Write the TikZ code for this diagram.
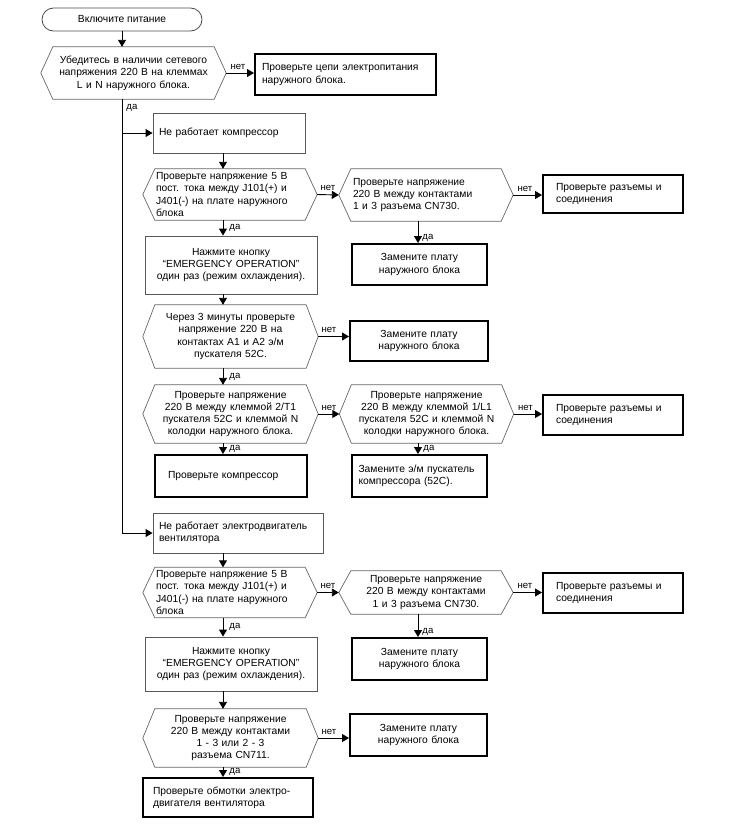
\documentclass[tikz,border=0pt]{standalone}
\usepackage{fontspec}
\setmainfont{Liberation Sans}
\usetikzlibrary{arrows.meta,calc}
\begin{document}
\begin{tikzpicture}[x=1pt,y=-1pt,
  every node/.style={font=\fontsize{10.3pt}{12.3pt}\selectfont, inner sep=0pt},
  term/.style={draw=black!70, line width=0.8pt, rounded corners=11.5pt},
  thinbox/.style={draw=black!65, line width=0.9pt},
  thickbox/.style={draw=black, line width=2pt},
  hexn/.style={draw=none},
  hexline/.style={draw=black!60, line width=0.7pt},
  conn/.style={draw=black, line width=0.9pt, -{Triangle[length=7pt,width=8pt]}},
  lbl/.style={font=\fontsize{9.6pt}{11pt}\selectfont, inner sep=1pt},
]
\useasboundingbox (0,0) rectangle (730,825);
\coordinate (colA) at (223,0);
\coordinate (colB) at (418,0);

% start
\node[term, minimum width=160pt, minimum height=23pt] (s) at (122,19.5) {Включите питание};

% decisions (inner rectangles; outlines drawn below)
\node[hexn, minimum width=161pt, minimum height=52pt, text width=161pt, align=center] (d1) at (133.5,73)
  {Убедитесь в наличии сетевого\\напряжения 220 В на клеммах\\L и N наружного блока.};
\node[hexn, minimum width=150pt, minimum height=51pt, text width=148pt, inner xsep=1pt, align=left] (d2) at (230,194.5)
  {Проверьте напряжение 5 В\\пост. тока между J101(+) и\\J401(-) на плате наружного\\блока};
\node[hexn, minimum width=150pt, minimum height=52pt, text width=146pt, inner xsep=2pt, align=left] (d3) at (426,195)
  {Проверьте напряжение\\220 В между контактами\\1 и 3 разъема CN730.};
\node[hexn, minimum width=151pt, minimum height=63pt, text width=151pt, align=center] (d4) at (230.5,336.5)
  {Через 3 минуты проверьте\\напряжение 220 В на\\контактах А1 и А2 э/м\\пускателя 52С.};
\node[hexn, minimum width=151pt, minimum height=58pt, text width=151pt, align=center] (d5) at (230.5,414)
  {Проверьте напряжение\\220 В между клеммой 2/Т1\\пускателя 52С и клеммой N\\колодки наружного блока.};
\node[hexn, minimum width=150pt, minimum height=58pt, text width=150pt, align=center] (d6) at (426.5,414)
  {Проверьте напряжение\\220 В между клеммой 1/L1\\пускателя 52С и клеммой N\\колодки наружного блока.};
\node[hexn, minimum width=150pt, minimum height=50pt, text width=148pt, inner xsep=1pt, align=left] (d7) at (230,592.5)
  {Проверьте напряжение 5 В\\пост. тока между J101(+) и\\J401(-) на плате наружного\\блока};
\node[hexn, minimum width=150pt, minimum height=43pt, text width=150pt, align=center] (d8) at (426,592.5)
  {Проверьте напряжение\\220 В между контактами\\1 и 3 разъема CN730.};
\node[hexn, minimum width=151pt, minimum height=58pt, text width=151pt, align=center] (d9) at (230.5,738)
  {Проверьте напряжение\\220 В между контактами\\1 - 3 или 2 - 3\\разъема CN711.};

\foreach \n in {d1,d2,d3,d4,d5,d6,d7,d8,d9} {
  \draw[hexline] (\n.north west) -- (\n.north east) -- ([xshift=12pt]\n.east)
    -- (\n.south east) -- (\n.south west) -- ([xshift=-12pt]\n.west) -- cycle;
  \coordinate (\n-R) at ([xshift=12pt]\n.east);
  \coordinate (\n-L) at ([xshift=-12pt]\n.west);
}

% boxes
\node[thickbox, minimum width=181pt, minimum height=41pt, text width=167pt, inner xsep=7pt, align=left] (b1) at (345.5,74.5)
  {Проверьте цепи электропитания\\наружного блока.};
\node[thinbox, minimum width=152pt, minimum height=40pt, text width=140pt, inner xsep=6pt, align=left] (c0) at (229,133)
  {Не работает компрессор};
\node[thickbox, minimum width=140pt, minimum height=38pt, text width=114pt, inner xsep=13pt, align=left] (b3) at (613,194)
  {Проверьте разъемы и\\соединения};
\node[thickbox, minimum width=135pt, minimum height=41pt, text width=131pt, inner xsep=2pt, align=center] (r3) at (419.5,264.5)
  {Замените плату\\наружного блока};
\node[thinbox, minimum width=172pt, minimum height=58pt, text width=168pt, inner xsep=2pt, align=center] (e1) at (231,265)
  {Нажмите кнопку\\“EMERGENCY OPERATION”\\один раз (режим охлаждения).};
\node[thickbox, minimum width=138pt, minimum height=40pt, text width=134pt, inner xsep=2pt, align=center] (r4) at (419,341)
  {Замените плату\\наружного блока};
\node[thickbox, minimum width=140pt, minimum height=40pt, text width=114pt, inner xsep=13pt, align=left] (b6) at (613,415)
  {Проверьте разъемы и\\соединения};
\node[thickbox, minimum width=135pt, minimum height=42pt, text width=122pt, inner xsep=6.5pt, align=left] (r6) at (419.5,476)
  {Замените э/м пускатель\\компрессора (52С).};
\node[thickbox, minimum width=152pt, minimum height=42pt, text width=126pt, inner xsep=13pt, align=left] (p5) at (231,476)
  {Проверьте компрессор};
\node[thinbox, minimum width=170pt, minimum height=40pt, text width=158pt, inner xsep=6pt, align=left] (f0) at (238,533)
  {Не работает электродвигатель\\вентилятора};
\node[thickbox, minimum width=140pt, minimum height=40pt, text width=114pt, inner xsep=13pt, align=left] (b8) at (613,593)
  {Проверьте разъемы и\\соединения};
\node[thickbox, minimum width=135pt, minimum height=42pt, text width=131pt, inner xsep=2pt, align=center] (r8) at (419.5,659)
  {Замените плату\\наружного блока};
\node[thinbox, minimum width=172pt, minimum height=54pt, text width=168pt, inner xsep=2pt, align=center] (e2) at (231,664)
  {Нажмите кнопку\\“EMERGENCY OPERATION”\\один раз (режим охлаждения).};
\node[thickbox, minimum width=137pt, minimum height=42pt, text width=133pt, inner xsep=2pt, align=center] (r9) at (418.5,735)
  {Замените плату\\наружного блока};
\node[thickbox, minimum width=170pt, minimum height=39pt, text width=150pt, inner xsep=10pt, align=left] (p9) at (228,797.5)
  {Проверьте обмотки электро-\\двигателя вентилятора};

% connectors
\draw[conn] (s.south) -- (s.south |- d1.north);
\draw[conn] (d1-R) -- node[lbl, pos=0, anchor=south west, xshift=3pt, yshift=2pt] {нет} (d1-R -| b1.west);
\draw[conn] (s.south |- d1.south) |- node[lbl, pos=0, anchor=north west, xshift=3pt, yshift=-4pt] {да} (f0.west);
\draw[conn] (s.south |- c0.west) -- (c0.west);
\draw[conn] (c0.south -| colA) -- (d2.north -| colA);
\draw[conn] (d2-R) -- node[lbl, pos=0, anchor=south west, xshift=2pt, yshift=2pt] {нет} (d3-L);
\draw[conn] (d3-R) -- node[lbl, pos=0, anchor=south west, xshift=3pt, yshift=2pt] {нет} (d3-R -| b3.west);
\draw[conn] (d3.south -| colB) -- node[lbl, pos=0.78, anchor=west, xshift=3pt] {да} (r3.north -| colB);
\draw[conn] (d2.south -| colA) -- node[lbl, pos=0.5, anchor=west, xshift=5pt] {да} (e1.north -| colA);
\draw[conn] (e1.south -| colA) -- (d4.north -| colA);
\draw[conn] (d4-R) -- node[lbl, pos=0, anchor=south west, xshift=2pt, yshift=2pt] {нет} (d4-R -| r4.west);
\draw[conn] (d4.south -| colA) -- node[lbl, pos=0.5, anchor=west, xshift=5pt] {да} (d5.north -| colA);
\draw[conn] (d5-R) -- node[lbl, pos=0, anchor=south west, xshift=2pt, yshift=2pt] {нет} (d6-L);
\draw[conn] (d6-R) -- node[lbl, pos=0, anchor=south west, xshift=3pt, yshift=2pt] {нет} (d6-R -| b6.west);
\draw[conn] (d6.south -| colB) -- node[lbl, pos=0.5, anchor=west, xshift=4pt] {да} (r6.north -| colB);
\draw[conn] (d5.south -| colA) -- node[lbl, pos=0.5, anchor=west, xshift=5pt] {да} (p5.north -| colA);
\draw[conn] (f0.south -| colA) -- (d7.north -| colA);
\draw[conn] (d7-R) -- node[lbl, pos=0, anchor=south west, xshift=2pt, yshift=2pt] {нет} (d8-L);
\draw[conn] (d8-R) -- node[lbl, pos=0, anchor=south west, xshift=3pt, yshift=2pt] {нет} (d8-R -| b8.west);
\draw[conn] (d8.south -| colB) -- node[lbl, pos=0.78, anchor=west, xshift=3pt] {да} (r8.north -| colB);
\draw[conn] (d7.south -| colA) -- node[lbl, pos=0.5, anchor=west, xshift=5pt] {да} (e2.north -| colA);
\draw[conn] (e2.south -| colA) -- (d9.north -| colA);
\draw[conn] (d9-R) -- node[lbl, pos=0, anchor=south west, xshift=2pt, yshift=2pt] {нет} (d9-R -| r9.west);
\draw[conn] (d9.south -| colA) -- node[lbl, pos=0.5, anchor=west, xshift=5pt] {да} (p9.north -| colA);
\end{tikzpicture}
\end{document}
